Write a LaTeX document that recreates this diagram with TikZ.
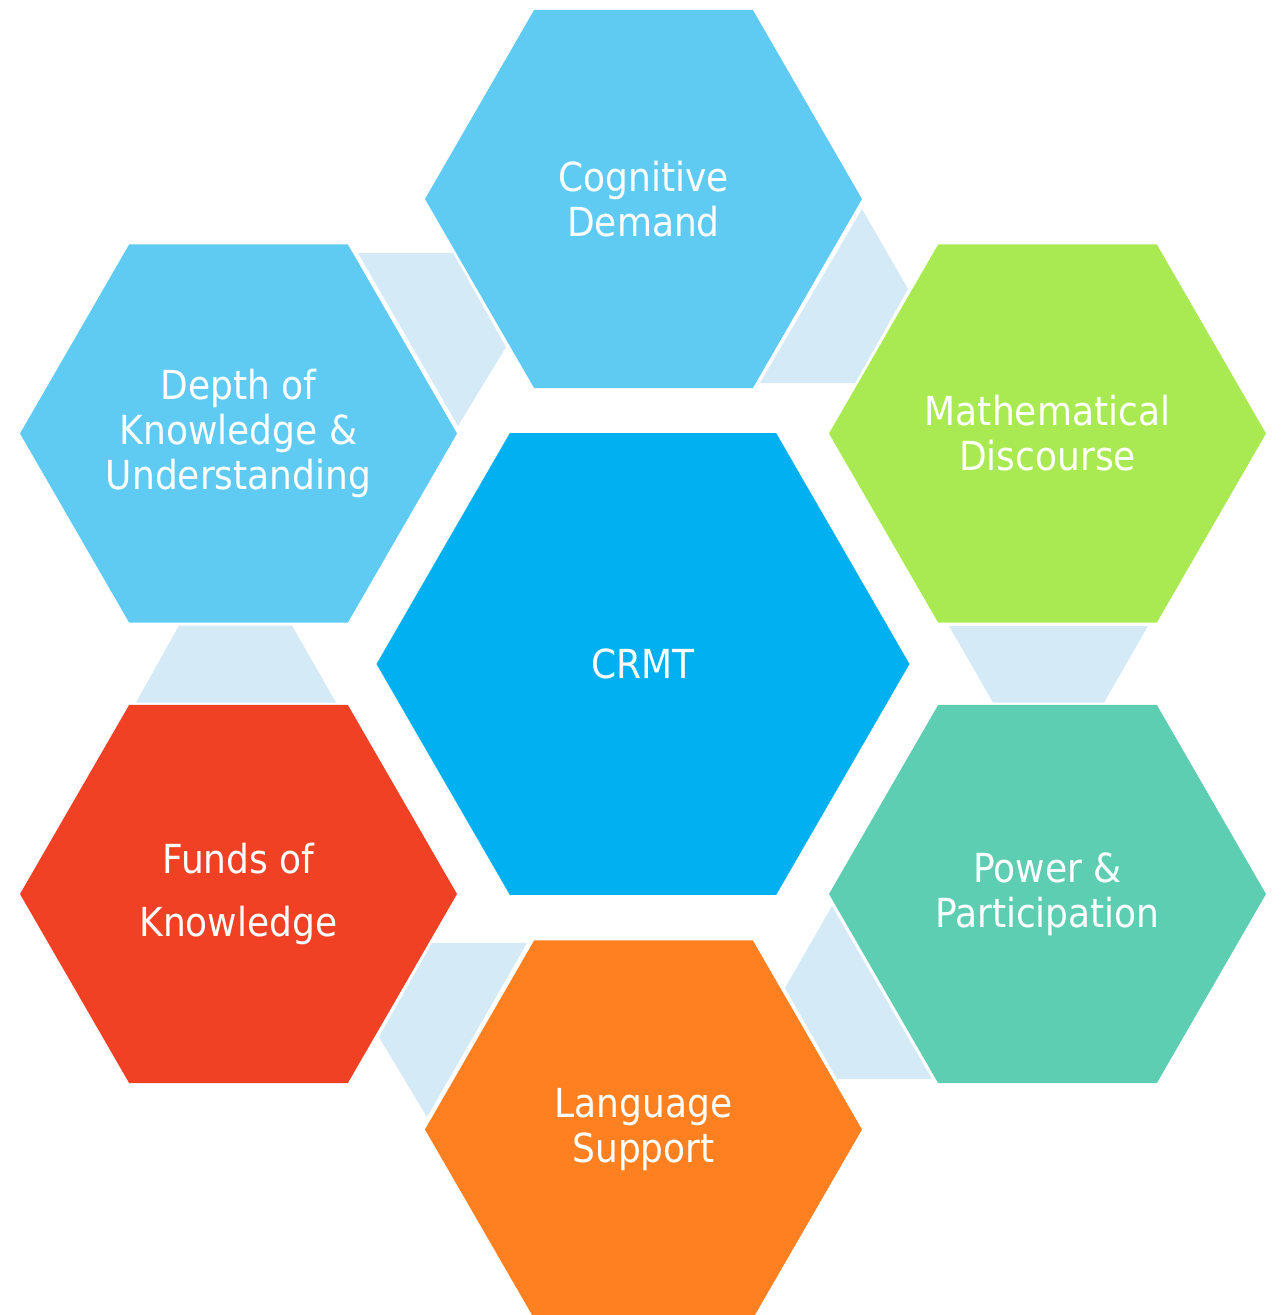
\documentclass[tikz,border=0pt]{standalone}
\usepackage{fontspec}
\setmainfont{DejaVu Sans Condensed}
\usetikzlibrary{shapes.geometric}

\definecolor{hexsky}{RGB}{95,203,243}
\definecolor{hexcore}{RGB}{0,176,240}
\definecolor{hexlime}{RGB}{169,234,82}
\definecolor{hexteal}{RGB}{93,206,177}
\definecolor{hexorange}{RGB}{254,128,33}
\definecolor{hexred}{RGB}{240,65,36}
\definecolor{linkfill}{RGB}{212,234,247}

\begin{document}
\begin{tikzpicture}[x=1pt,y=-1pt,
  hexbox/.style={regular polygon, regular polygon sides=6, minimum size=437pt,
    inner sep=0pt, outer sep=0pt, draw=none, text=white, align=center,
    font=\fontsize{40}{45}\selectfont},
  corehex/.style={hexbox, minimum size=533pt},
  linkshape/.style={fill=linkfill, draw=none}]

\useasboundingbox (0,0) rectangle (1281,1315);
\clip (0,0) rectangle (1281,1315);

% central hexagon
\node[corehex, fill=hexcore] (crmt) at (643,664) {CRMT};

% ring of six hexagons, clockwise from the top
\node[hexbox, fill=hexsky]    (cd) at (643.5,199)    {Cognitive\\Demand};
\node[hexbox, fill=hexlime]   (md) at (1047.5,433.5) {Mathematical\\Discourse};
\node[hexbox, fill=hexteal]   (pp) at (1047.5,894)   {Power \&\\Participation};
\node[hexbox, fill=hexorange] (ls) at (643.5,1129.5) {Language\\Support};
\node[hexbox, fill=hexred]    (fk) at (238.5,894)    {Funds of\\[18pt]Knowledge};
\node[hexbox, fill=hexsky]    (dk) at (238.5,433.5)  {Depth of\\Knowledge \&\\Understanding};

% light trapezoid links between neighbouring hexagons
% cd -- md
\fill[linkshape] (862,209) -- (908,289) -- (855,383) -- (760,383) -- cycle;
% md -- pp
\fill[linkshape] (949,626) -- (1148,626) -- (1104,702.5) -- (993,702.5) -- cycle;
% pp -- ls
\fill[linkshape] (832,906) -- (932,1079) -- (837,1079) -- (785,988) -- cycle;
% ls -- fk
\fill[linkshape] (432,943) -- (527,943) -- (427,1117) -- (379,1037) -- cycle;
% fk -- dk
\fill[linkshape] (179,625.5) -- (292,625.5) -- (336,702.5) -- (136,702.5) -- cycle;
% dk -- cd
\fill[linkshape] (358,253) -- (453,253) -- (506,347) -- (458,426) -- cycle;

\end{tikzpicture}
\end{document}
